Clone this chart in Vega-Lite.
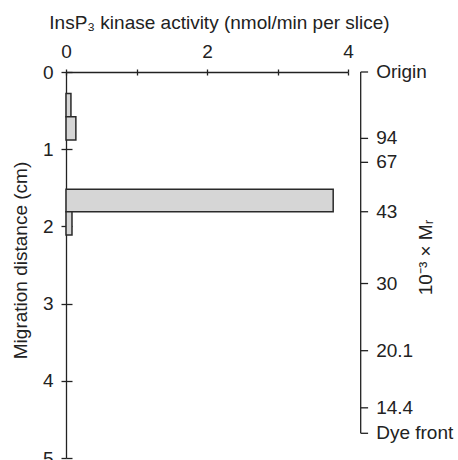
{
  "$schema": "https://vega.github.io/schema/vega-lite/v6.json",
  "width": 282,
  "height": 386,
  "autosize": "none",
  "padding": {"left": 66, "top": 72, "right": 110, "bottom": 2},
  "background": "white",
  "config": {
    "view": {"stroke": null},
    "font": "Liberation Sans",
    "axis": {
      "grid": false,
      "labelFlush": false,
      "domainColor": "#222",
      "tickColor": "#222",
      "domainWidth": 1.3,
      "tickWidth": 1.3,
      "labelColor": "#222",
      "titleColor": "#222",
      "labelFontSize": 19,
      "titleFontSize": 19,
      "labelFont": "Liberation Sans",
      "titleFont": "Liberation Sans",
      "titleFontWeight": "normal"
    }
  },
  "datasets": {
    "bars": [
      {"start": 0.28, "end": 0.58, "activity": 0.07},
      {"start": 0.58, "end": 0.88, "activity": 0.14},
      {"start": 1.52, "end": 1.81, "activity": 3.79},
      {"start": 1.81, "end": 2.11, "activity": 0.085}
    ],
    "markers": [
      {"label": "Origin", "cm": 0},
      {"label": "94", "cm": 0.86},
      {"label": "67", "cm": 1.17},
      {"label": "43", "cm": 1.81},
      {"label": "30", "cm": 2.74},
      {"label": "20.1", "cm": 3.61},
      {"label": "14.4", "cm": 4.35},
      {"label": "Dye front", "cm": 4.68}
    ]
  },
  "layer": [
    {
      "data": {"name": "bars"},
      "mark": {"type": "rect", "fill": "#d6d6d6", "stroke": "#2a2a2a", "strokeWidth": 1.5},
      "encoding": {
        "x": {
          "field": "activity", "type": "quantitative",
          "scale": {"domain": [0, 4], "nice": false, "zero": true},
          "axis": {
            "orient": "top", "values": [0, 1, 2, 3, 4],
            "labelExpr": "datum.value % 2 == 0 ? datum.label : ''",
            "tickSize": 3, "labelPadding": 8,
            "title": "InsP₃ kinase activity (nmol/min per slice)",
            "titleX": 153, "titleY": -44, "titleBaseline": "alphabetic", "titleAlign": "center"
          }
        },
        "x2": {"datum": 0},
        "y": {
          "field": "start", "type": "quantitative",
          "scale": {"domain": [0, 5], "nice": false, "reverse": true},
          "axis": {
            "orient": "left", "values": [0, 1, 2, 3, 4, 5],
            "tickSize": 5, "labelPadding": 8,
            "title": "Migration distance (cm)",
            "titleAngle": -90, "titleX": -46, "titleY": 188,
            "titleBaseline": "middle", "titleAlign": "center"
          }
        },
        "y2": {"field": "end"}
      }
    },
    {
      "data": {"name": "markers"},
      "mark": {"type": "rule", "color": "#222", "strokeWidth": 1.3},
      "encoding": {
        "x": {"datum": 4.18, "type": "quantitative", "scale": {"domain": [0, 4], "nice": false},
          "axis": {"orient": "top", "values": [0, 1, 2, 3, 4], "tickSize": -3, "labels": false, "domain": false, "title": null}},
        "y": {"aggregate": "min", "field": "cm", "type": "quantitative", "scale": {"domain": [0, 5], "nice": false, "reverse": true},
          "axis": {"orient": "left", "values": [0, 1, 2, 3, 4, 5], "tickSize": -6, "labels": false, "domain": false, "title": null}},
        "y2": {"aggregate": "max", "field": "cm"}
      }
    },
    {
      "data": {"name": "markers"},
      "mark": {"type": "rule", "color": "#222", "strokeWidth": 1.3},
      "encoding": {
        "x": {"datum": 4.18, "type": "quantitative", "scale": {"domain": [0, 4], "nice": false}, "axis": null},
        "x2": {"datum": 4.285},
        "y": {"field": "cm", "type": "quantitative", "scale": {"domain": [0, 5], "nice": false, "reverse": true}, "axis": null}
      }
    },
    {
      "data": {"name": "markers"},
      "mark": {"type": "text", "align": "left", "baseline": "middle", "fontSize": 19, "font": "Liberation Sans", "color": "#222"},
      "encoding": {
        "x": {"datum": 4.4, "type": "quantitative", "scale": {"domain": [0, 4], "nice": false}, "axis": null},
        "y": {"field": "cm", "type": "quantitative", "scale": {"domain": [0, 5], "nice": false, "reverse": true},
          "axis": {
            "orient": "right", "labels": false, "ticks": false, "domain": false,
            "title": "10⁻³ × Mᵣ", "titleAngle": -90, "titleX": 77, "titleY": 185,
            "titleBaseline": "middle", "titleAlign": "center"
          }},
        "text": {"field": "label", "type": "nominal"}
      }
    }
  ],
  "resolve": {"axis": {"x": "independent", "y": "independent"}}
}
